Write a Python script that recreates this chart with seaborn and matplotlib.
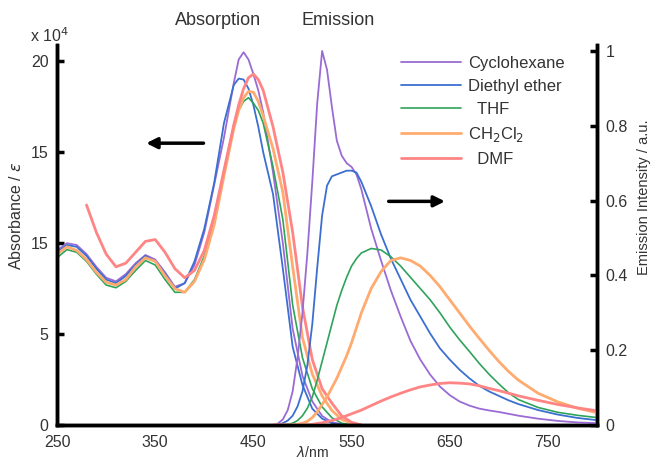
import numpy as np
import pandas as pd
import seaborn as sns
import matplotlib.pyplot as plt

# solvents and colours
solvents = ['Cyclohexane', 'Diethyl ether', 'THF', 'CH2Cl2', 'DMF']
labels = ['Cyclohexane', 'Diethyl ether', '  THF', 'CH$_2$Cl$_2$', '  DMF']
colors = ['#9a6bd4', '#3b6fd1', '#2ea35a', '#ffaa6e', '#ff8585']

# absorption, x 10^4
abs_nm = [250, 260, 270, 280, 290, 300, 310, 320, 330, 340, 350, 360, 370, 380, 390,
          400, 410, 420, 430, 435, 440, 445, 450, 455, 460, 470, 480, 490, 500, 510,
          520, 530, 540, 550, 560]
abs_cyclohexane = [9.6, 10.0, 9.9, 9.4, 8.7, 8.1, 7.9, 8.3, 8.9, 9.35, 9.1, 8.4, 7.6, 7.8, 8.8,
                   10.6, 13.2, 15.8, 18.8, 20.1, 20.5, 20.1, 19.3, 18.4, 17.2, 13.9, 10.0, 5.3, 2.7, 1.3,
                   0.5, 0.15, 0.05, 0.0, 0.0]
abs_ether = [9.5, 9.9, 9.8, 9.3, 8.6, 8.0, 7.8, 8.2, 8.8, 9.3, 9.0, 8.3, 7.5, 7.8, 9.0,
             10.8, 13.3, 16.6, 18.7, 19.05, 19.0, 18.5, 17.6, 16.4, 15.0, 12.7, 8.6, 4.3, 2.2, 0.9,
             0.35, 0.1, 0.0, 0.0, 0.0]
abs_thf = [9.2, 9.65, 9.5, 9.0, 8.3, 7.7, 7.55, 7.9, 8.5, 9.05, 8.8, 8.0, 7.3, 7.3, 8.0,
           9.3, 11.3, 14.0, 16.5, 17.3, 17.8, 18.0, 17.7, 17.3, 16.6, 14.2, 11.3, 6.6, 3.7, 2.0,
           1.0, 0.4, 0.1, 0.0, 0.0]
abs_ch2cl2 = [9.4, 9.8, 9.6, 9.1, 8.4, 7.85, 7.7, 8.0, 8.7, 9.2, 9.0, 8.2, 7.5, 7.3, 7.9,
              9.1, 11.0, 13.7, 16.3, 17.3, 18.0, 18.35, 18.3, 17.8, 17.0, 15.2, 12.8, 8.7, 4.8, 2.8,
              1.6, 0.8, 0.3, 0.1, 0.0]
abs_dmf = [np.nan, np.nan, np.nan, 12.1, 10.6, 9.4, 8.7, 8.9, 9.5, 10.1, 10.2, 9.5, 8.6, 8.1, 8.5,
           9.6, 11.5, 14.0, 16.5, 17.6, 18.5, 19.1, 19.3, 19.0, 18.4, 16.4, 13.9, 10.6, 6.5, 3.6,
           2.0, 1.2, 0.5, 0.15, 0.0]

# emission, normalised
em_nm = [470, 475, 480, 485, 490, 495, 500, 505, 510, 515, 520, 525, 530, 535, 540,
         545, 550, 555, 560, 570, 580, 590, 600, 610, 620, 630, 640, 650, 660, 670,
         680, 690, 700, 710, 720, 740, 760, 780, 800]
em_cyclohexane = [0.0, 0.004, 0.015, 0.04, 0.09, 0.18, 0.30, 0.46, 0.65, 0.86, 1.0, 0.95, 0.85, 0.76, 0.72,
                  0.70, 0.69, 0.67, 0.63, 0.525, 0.44, 0.36, 0.29, 0.225, 0.175, 0.135, 0.103, 0.08, 0.063, 0.052,
                  0.044, 0.039, 0.035, 0.03, 0.025, 0.017, 0.011, 0.007, 0.005]
em_ether = [0.0, 0.0, 0.005, 0.012, 0.025, 0.05, 0.09, 0.16, 0.27, 0.42, 0.56, 0.64, 0.665, 0.67, 0.675,
            0.68, 0.68, 0.675, 0.65, 0.585, 0.51, 0.445, 0.39, 0.335, 0.29, 0.245, 0.205, 0.175, 0.148, 0.125,
            0.105, 0.09, 0.078, 0.066, 0.056, 0.04, 0.028, 0.019, 0.013]
em_thf = [0.0, 0.0, 0.0, 0.002, 0.005, 0.012, 0.025, 0.045, 0.075, 0.12, 0.17, 0.22, 0.27, 0.32, 0.36,
          0.395, 0.425, 0.445, 0.46, 0.472, 0.468, 0.45, 0.425, 0.395, 0.365, 0.335, 0.30, 0.262, 0.228, 0.197,
          0.165, 0.136, 0.11, 0.086, 0.068, 0.047, 0.034, 0.026, 0.02]
em_ch2cl2 = [0.0, 0.0, 0.0, 0.0, 0.0, 0.002, 0.005, 0.01, 0.02, 0.035, 0.055, 0.075, 0.10, 0.125, 0.155,
             0.185, 0.22, 0.26, 0.30, 0.365, 0.41, 0.44, 0.447, 0.44, 0.425, 0.40, 0.37, 0.335, 0.30, 0.265,
             0.232, 0.20, 0.17, 0.143, 0.12, 0.085, 0.062, 0.045, 0.033]
em_dmf = [0.0, 0.0, 0.0, 0.0, 0.0, 0.0, 0.0, 0.0, 0.002, 0.004, 0.006, 0.009, 0.012, 0.016, 0.02,
          0.025, 0.03, 0.035, 0.04, 0.052, 0.064, 0.075, 0.085, 0.094, 0.102, 0.107, 0.111, 0.113, 0.112, 0.11,
          0.105, 0.098, 0.092, 0.085, 0.078, 0.066, 0.055, 0.046, 0.038]

x_ticks = [250, 350, 450, 550, 650, 750]
y_ticks = [0, 5, 10, 15, 20]
y_ticklabels = ['0', '5', '15', '15', '20']
y2_ticks = [0, 0.2, 0.4, 0.6, 0.8, 1]
y2_ticklabels = ['0', '0.2', '0.4', '0.6', '0.8', '1']

df_abs = pd.DataFrame({'nm': abs_nm, 'Cyclohexane': abs_cyclohexane, 'Diethyl ether': abs_ether,
                       'THF': abs_thf, 'CH2Cl2': abs_ch2cl2, 'DMF': abs_dmf})
df_abs = df_abs.melt(id_vars='nm', var_name='solvent', value_name='val').dropna()
df_em = pd.DataFrame({'nm': em_nm, 'Cyclohexane': em_cyclohexane, 'Diethyl ether': em_ether,
                      'THF': em_thf, 'CH2Cl2': em_ch2cl2, 'DMF': em_dmf})
df_em = df_em.melt(id_vars='nm', var_name='solvent', value_name='val')

sns.set_style('white')
plt.rcParams['font.family'] = ['Liberation Sans', 'DejaVu Sans']
plt.rcParams['mathtext.fontset'] = 'dejavusans'

fig = plt.figure(figsize=(6.56, 4.59), dpi=100)
ax1 = fig.add_axes([0.087, 0.074, 0.823, 0.828])
ax2 = ax1.twinx()

pal = dict(zip(solvents, colors))
sns.lineplot(data=df_abs, x='nm', y='val', hue='solvent', hue_order=solvents, palette=pal,
             estimator=None, sort=False, legend=False, ax=ax1)
sns.lineplot(data=df_em, x='nm', y='val', hue='solvent', hue_order=solvents, palette=pal,
             estimator=None, sort=False, legend=False, ax=ax2)

widths = [1.3, 1.3, 1.2, 2.0, 2.0]
for ax in (ax1, ax2):
    for line, w in zip(ax.lines, widths):
        line.set_linewidth(w)
        line.set_solid_capstyle('round')
        line.set_solid_joinstyle('round')

handles = [plt.Line2D([], [], color=c, lw=w) for c, w in zip(colors, widths)]
leg = ax2.legend(handles, labels, loc='upper right', bbox_to_anchor=(0.941, 0.972), frameon=False,
                 fontsize=12, handlelength=3.6, labelspacing=0.48, handletextpad=0.45,
                 borderpad=0, borderaxespad=0)
for t in leg.get_texts():
    t.set_color('#333333')

ax1.set_xlim(250, 800)
ax1.set_ylim(0, 20.9)
ax2.set_ylim(0, 1.016)

ax1.set_xticks(x_ticks)
ax1.set_yticks(y_ticks)
ax1.set_yticklabels(y_ticklabels)
ax2.set_yticks(y2_ticks)
ax2.set_yticklabels(y2_ticklabels)

for ax in (ax1, ax2):
    ax.spines['top'].set_visible(False)
    for s in ('left', 'right', 'bottom'):
        ax.spines[s].set_linewidth(2.5)
        ax.spines[s].set_color('black')
    ax.tick_params(direction='in', length=5, width=2.5, labelsize=11.5, colors='black',
                   labelcolor='#333333')
ax1.tick_params(axis='x', pad=7)
ax1.tick_params(axis='y', pad=6)
ax2.tick_params(axis='y', pad=6)

ax1.set_xlabel('$\\lambda$/nm', fontsize=10, color='#333333')
ax1.xaxis.set_label_coords(0.474, -0.053)
ax1.set_ylabel('Absorbance / $\\varepsilon$', fontsize=11.5, color='#333333')
ax1.yaxis.set_label_coords(-0.062, 0.55)
ax2.set_ylabel('Emission Intensity / a.u.', fontsize=10.5, color='#333333')
ax2.yaxis.set_label_coords(1.075, 0.6)

fig.text(0.046, 0.908, 'x 10$^4$', fontsize=11.5, color='#333333')
fig.text(0.332, 0.955, 'Absorption', fontsize=13, ha='center', va='center', color='#333333')
fig.text(0.515, 0.955, 'Emission', fontsize=13, ha='center', va='center', color='#333333')

ax1.annotate('', xy=(338, 15.5), xytext=(402, 15.5),
             arrowprops=dict(arrowstyle='-|>', color='black', lw=2.5, mutation_scale=16))
ax1.annotate('', xy=(648, 12.3), xytext=(585, 12.3),
             arrowprops=dict(arrowstyle='-|>', color='black', lw=2.5, mutation_scale=16))

fig.savefig('out.png', dpi=100)
